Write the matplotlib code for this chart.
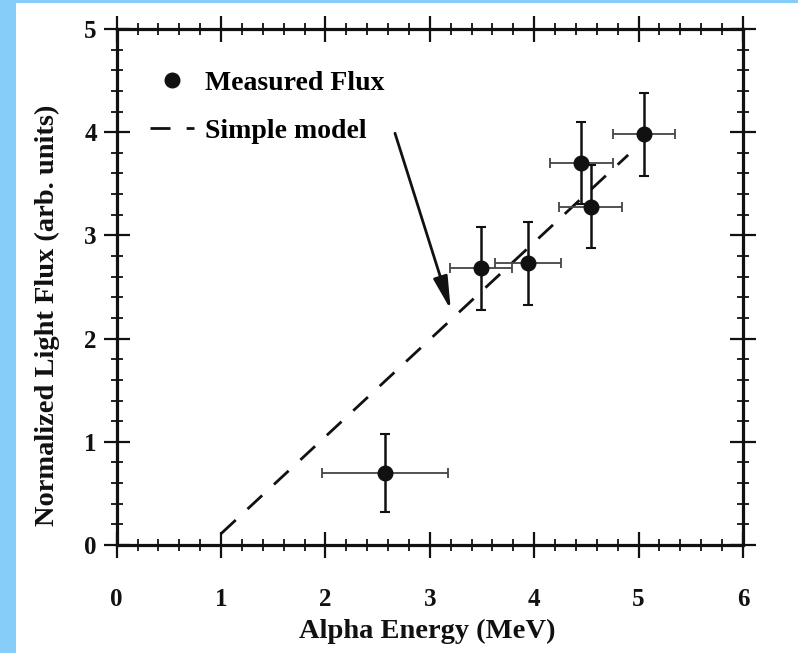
import matplotlib.pyplot as plt
import matplotlib.patches as mpatches
from matplotlib.ticker import MultipleLocator

# measured points
energy = [2.57, 3.49, 3.94, 4.45, 4.54, 5.05]
flux = [0.70, 2.68, 2.73, 3.70, 3.28, 3.98]
energy_err = [0.60, 0.30, 0.32, 0.30, 0.30, 0.30]
flux_err = [0.38, 0.40, 0.40, 0.40, 0.40, 0.40]

# simple model line (end points)
model_x = [1.0, 4.9]
model_y = [0.11, 3.78]

xticks = [0, 1, 2, 3, 4, 5, 6]
yticks = [0, 1, 2, 3, 4, 5]

ink = '#111111'
plt.rcParams['font.family'] = 'Liberation Serif'
plt.rcParams['font.weight'] = 'bold'

fig = plt.figure(figsize=(7.98, 6.53), dpi=100)
fig.set_facecolor('#86cdf9')
# white page on top of the blue frame
fig.patches.append(mpatches.Rectangle((16 / 798, 0), 1, 1 - 3 / 653,
                                      transform=fig.transFigure,
                                      facecolor='white', edgecolor='none', zorder=-5))

ax = fig.add_axes([116.7 / 798, 1 - 545 / 653, (743 - 116.7) / 798, (545 - 29) / 653])
ax.set_facecolor('none')

model, = ax.plot(model_x, model_y, color=ink, lw=2, dashes=(7.2, 5.8),
                 label='Simple model', zorder=2)

ax.errorbar(energy, flux, xerr=energy_err, fmt='none', ecolor='#444444',
            elinewidth=1.3, capsize=3.5, capthick=1.3, zorder=3)
ax.errorbar(energy, flux, yerr=flux_err, fmt='none', ecolor=ink,
            elinewidth=1.8, capsize=3.5, capthick=1.5, zorder=3)
pts, = ax.plot(energy, flux, 'o', color=ink, ms=10.5, label='Measured Flux', zorder=4)

ax.annotate('', xy=(3.20, 2.28), xytext=(2.666, 3.99),
            arrowprops=dict(arrowstyle='-|>,head_length=1.0,head_width=0.22', color=ink,
                            lw=2, mutation_scale=20, shrinkA=0, shrinkB=0))

ax.legend(handles=[pts, model], loc='upper left', bbox_to_anchor=(0.053, 0.92),
          frameon=False, fontsize=20, handlelength=1.6, handletextpad=0.4,
          labelspacing=0.82, borderpad=0, borderaxespad=0)

ax.set_xlim(0, 6)
ax.set_ylim(0, 5)
ax.set_xticks(xticks)
ax.set_yticks(yticks)
ax.xaxis.set_minor_locator(MultipleLocator(0.2))
ax.yaxis.set_minor_locator(MultipleLocator(0.2))
ax.tick_params(which='both', direction='inout', top=True, right=True, colors=ink)
ax.tick_params(which='major', length=18.7, width=1.6, labelsize=18)
ax.tick_params(which='minor', length=8.6, width=1.3)
ax.tick_params(axis='x', which='major', pad=21.6)
ax.tick_params(axis='y', which='major', pad=5)
for s in ax.spines.values():
    s.set_linewidth(2.3)
    s.set_color(ink)

fig.text(427.5 / 798, 1 - 631.7 / 653, 'Alpha Energy (MeV)', ha='center', va='center',
         fontsize=20.5, color=ink)
fig.text(47 / 798, 1 - 315 / 653, 'Normalized Light Flux (arb. units)', ha='center',
         va='center', rotation=90, fontsize=20.5, color=ink)

fig.savefig('out.png', dpi=100)
